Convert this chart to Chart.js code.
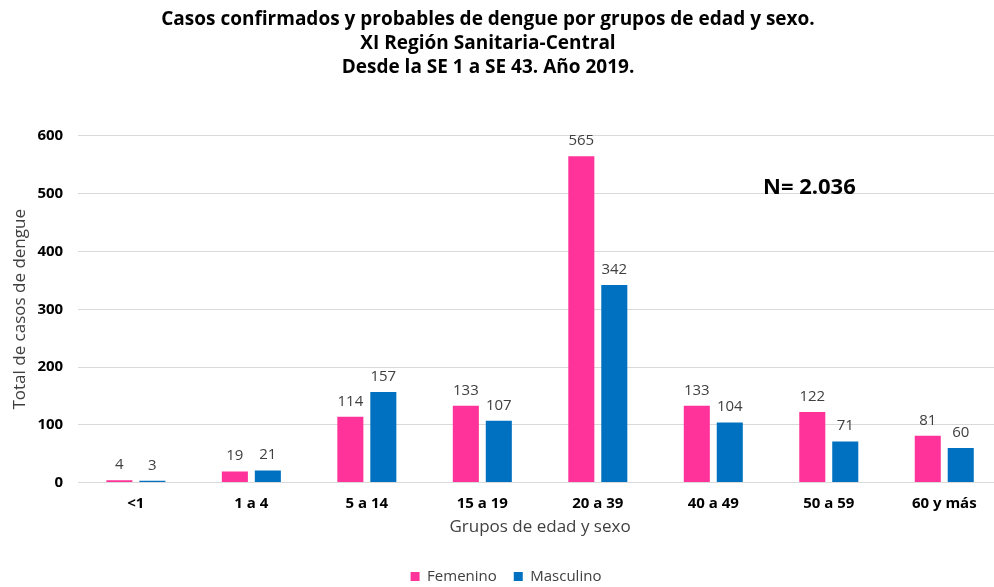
<!DOCTYPE html>
<html>
<head>
<meta charset="utf-8">
<script src="https://cdn.jsdelivr.net/npm/chart.js@4/dist/chart.umd.min.js"></script>
<style>
html,body{margin:0;padding:0;background:#fff;overflow:hidden;}
#wrap{position:absolute;left:0;top:0;width:1010px;height:598px;}
</style>
</head>
<body>
<div id="wrap"><canvas id="c"></canvas></div>
<script>
const categories = ["<1","1 a 4","5 a 14","15 a 19","20 a 39","40 a 49","50 a 59","60 y más"];
const femenino = [4,19,114,133,565,133,122,81];
const masculino = [3,21,157,107,342,104,71,60];
const yTicks = [0,100,200,300,400,500,600];
const titleLines = ["Casos confirmados y probables de dengue por grupos de edad y sexo.","XI Región Sanitaria-Central","Desde la SE 1 a SE 43. Año 2019."];
const nLabel = "N= 2.036";

const FONT = "'Open Sans', 'Noto Sans', sans-serif";

const titleShift = {
  id:'titleShift',
  afterLayout(chart){
    if (chart.titleBlock) { chart.titleBlock.right -= 36; }
  }
};

const labelPlugin = {
  id:'vals',
  afterDatasetsDraw(chart){
    const ctx = chart.ctx;
    ctx.save();
    ctx.font = "15px " + FONT;
    ctx.fillStyle = "#404040";
    ctx.textAlign = "center";
    ctx.textBaseline = "bottom";
    chart.data.datasets.forEach((ds,i)=>{
      chart.getDatasetMeta(i).data.forEach((bar,j)=>{
        ctx.fillText(String(ds.data[j]), bar.x, bar.y - 8);
      });
    });
    ctx.font = "bold 22px " + FONT;
    ctx.fillStyle = "#000";
    ctx.textAlign = "left";
    ctx.textBaseline = "middle";
    const ys = chart.scales.y;
    ctx.fillText(nLabel, 763, ys.getPixelForValue(510));
    ctx.restore();
  }
};

new Chart(document.getElementById('c'), {
  type:'bar',
  data:{
    labels:categories,
    datasets:[
      {label:'Femenino', data:femenino, backgroundColor:'#FF3399', borderWidth:0},
      {label:'Masculino', data:masculino, backgroundColor:'#0070C0', borderWidth:0}
    ]
  },
  options:{
    responsive:true,
    maintainAspectRatio:false,
    animation:false,
    layout:{padding:{left:10,right:8,top:8,bottom:4}},
    datasets:{bar:{categoryPercentage:0.571, barPercentage:0.79}},
    plugins:{
      title:{display:true, text:titleLines, color:'#000', font:{family:FONT, size:19, weight:'bold', lineHeight:1.263}, padding:{top:0,bottom:56}},
      legend:{position:'bottom', labels:{boxWidth:9, boxHeight:9, color:'#404040', font:{family:FONT, size:15}, padding:17}},
      tooltip:{enabled:false}
    },
    scales:{
      x:{
        grid:{display:false},
        border:{display:false},
        ticks:{color:'#000', font:{family:FONT, size:15, weight:'bold'}, padding:4},
        title:{display:true, text:'Grupos de edad y sexo', color:'#404040', font:{family:FONT, size:17}, padding:{top:0,bottom:15}}
      },
      y:{
        min:0, max:600,
        afterBuildTicks(s){ s.ticks = yTicks.map(v=>({value:v})); },
        grid:{color:'#d9d9d9', drawTicks:false},
        border:{display:false},
        ticks:{color:'#000', font:{family:FONT, size:15, weight:'bold'}, padding:15},
        title:{display:true, text:'Total de casos de dengue', color:'#404040', font:{family:FONT, size:17}, padding:{top:0,bottom:-8}}
      }
    }
  },
  plugins:[titleShift, labelPlugin]
});
</script>
</body>
</html>
